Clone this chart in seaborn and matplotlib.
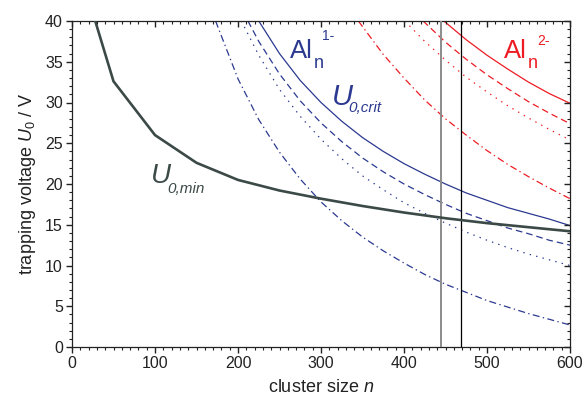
import numpy as np
import pandas as pd
import matplotlib
matplotlib.use("Agg")
import matplotlib.pyplot as plt
import seaborn as sns

# =========================
# DATA
# =========================
n_min = [28, 50, 100, 150, 200, 250, 300, 350, 400, 450, 500, 550, 600]
u_min = [40.0, 32.6, 26.0, 22.6, 20.5, 19.2, 18.2, 17.3, 16.5, 15.8, 15.2, 14.7, 14.2]

n_b_solid = [225, 250, 275, 300, 325, 350, 375, 400, 425, 450, 475, 500, 525, 550, 575, 600]
u_b_solid = [40.0, 36.0, 32.7, 30.0, 27.7, 25.7, 24.0, 22.5, 21.2, 20.0, 18.9, 18.0, 17.1, 16.4, 15.7, 14.9]

n_b_dash = [212, 225, 250, 275, 300, 325, 350, 375, 400, 425, 450, 475, 500, 525, 550, 575, 600]
u_b_dash = [40.0, 37.5, 33.5, 30.2, 27.5, 25.2, 23.2, 21.5, 20.0, 18.7, 17.5, 16.4, 15.5, 14.6, 13.9, 13.1, 12.5]

n_b_dot = [204, 225, 250, 275, 300, 325, 350, 375, 400, 425, 450, 475, 500, 525, 550, 575, 600]
u_b_dot = [40.0, 35.8, 31.6, 28.3, 25.5, 23.1, 21.0, 19.3, 17.7, 16.4, 15.2, 14.1, 13.1, 12.2, 11.4, 10.7, 10.0]

n_b_dd = [173, 200, 225, 250, 275, 300, 325, 350, 375, 400, 425, 450, 475, 500, 525, 550, 575, 600]
u_b_dd = [40.0, 32.9, 27.9, 23.9, 20.6, 17.8, 15.5, 13.5, 11.8, 10.3, 8.9, 7.7, 6.7, 5.7, 4.9, 4.1, 3.4, 2.7]

n_r_solid = [448, 475, 500, 525, 550, 575, 600]
u_r_solid = [40.0, 37.7, 35.8, 34.1, 32.5, 31.1, 29.9]

n_r_dash = [423, 450, 475, 500, 525, 550, 575, 600]
u_r_dash = [40.0, 37.4, 35.3, 33.4, 31.7, 30.1, 28.7, 27.4]

n_r_dot = [401, 425, 450, 475, 500, 525, 550, 575, 600]
u_r_dot = [40.0, 37.5, 35.2, 33.1, 31.3, 29.6, 28.1, 26.7, 25.4]

n_r_dd = [345, 375, 400, 425, 450, 475, 500, 525, 550, 575, 600]
u_r_dd = [40.0, 35.9, 33.0, 30.3, 28.0, 26.0, 24.1, 22.4, 20.9, 19.5, 18.2]

v_lines = [444.5, 469.0]

x_major = list(range(0, 601, 100))
x_minor = list(range(0, 601, 10))
y_major = list(range(0, 41, 5))
y_minor = list(range(0, 41, 1))

# =========================
# STYLE
# =========================
sns.set_style("ticks")
plt.rcParams["font.family"] = ["Liberation Sans", "DejaVu Sans"]
plt.rcParams["mathtext.fontset"] = "custom"
plt.rcParams["mathtext.rm"] = "Liberation Sans"
plt.rcParams["mathtext.it"] = "Liberation Sans:italic"

BLUE = "#2b3990"
RED = "#ed1c24"
DARK = "#3c4a47"
AXC = "#222222"

fig = plt.figure(figsize=(5.88, 4.07), dpi=100)
ax = fig.add_axes([72 / 588, 1 - 347 / 407, 498 / 588, 326 / 407])

# =========================
# CURVES  (dash lengths in units of line width, lw = 0.9)
# =========================
dash = (0, (5.3, 3.2))
dot = (0, (1.1, 4.2))
dashdot = (0, (5.6, 2.7, 1.1, 2.7))

blue_sets = [(n_b_solid, u_b_solid, "-"), (n_b_dash, u_b_dash, dash),
             (n_b_dot, u_b_dot, dot), (n_b_dd, u_b_dd, dashdot)]
red_sets = [(n_r_solid, u_r_solid, "-"), (n_r_dash, u_r_dash, dash),
            (n_r_dot, u_r_dot, dot), (n_r_dd, u_r_dd, dashdot)]

for xs, ys, ls in blue_sets:
    sns.lineplot(x=xs, y=ys, ax=ax, color=BLUE, linewidth=0.9, linestyle=ls)
for xs, ys, ls in red_sets:
    sns.lineplot(x=xs, y=ys, ax=ax, color=RED, linewidth=0.9, linestyle=ls)

ax.axvline(v_lines[0], color="#8c8c8c", linewidth=1.4, zorder=3)
ax.axvline(v_lines[1], color="black", linewidth=0.9, zorder=3)

sns.lineplot(x=n_min, y=u_min, ax=ax, color=DARK, linewidth=1.9, zorder=4)

# =========================
# AXES
# =========================
ax.set_xlim(0, 600)
ax.set_ylim(0, 40)
ax.set_xticks(x_major)
ax.set_xticks(x_minor, minor=True)
ax.set_yticks(y_major)
ax.set_yticks(y_minor, minor=True)
ax.tick_params(which="major", length=4.5, width=1.0, color=AXC,
               labelsize=11.5, pad=2, labelcolor="#222222")
ax.tick_params(which="minor", length=2.5, width=0.8, color=AXC)
for sp in ax.spines.values():
    sp.set_visible(True)
    sp.set_color(AXC)
    sp.set_linewidth(0.9)

# inward ticks on top and right via twin axes
tx = ax.twiny()
tx.set_xlim(ax.get_xlim())
tx.set_xticks(x_major)
tx.set_xticks(x_minor, minor=True)
tx.xaxis.set_ticks_position("top")
tx.tick_params(which="major", direction="in", length=4.5, width=1.0, color=AXC, labeltop=False)
tx.tick_params(which="minor", direction="in", length=2.5, width=0.8, color=AXC)

ty = ax.twinx()
ty.set_ylim(ax.get_ylim())
ty.set_yticks(y_major)
ty.set_yticks(y_minor, minor=True)
ty.yaxis.set_ticks_position("right")
ty.tick_params(which="major", direction="in", length=4.5, width=1.0, color=AXC, labelright=False)
ty.tick_params(which="minor", direction="in", length=2.5, width=0.8, color=AXC)
for t in (tx, ty):
    for sp in t.spines.values():
        sp.set_visible(False)

ax.set_xlabel("cluster size $n$", fontsize=13, color="#222222", labelpad=6)
ax.set_ylabel("trapping voltage $U_0$ / V", fontsize=13, color="#222222", labelpad=5)

# =========================
# LABELS
# =========================
ax.text(262.7, 35.5, "Al", color=BLUE, fontsize=18.5, ha="left", va="baseline")
ax.text(291.0, 34.27, "n", color=BLUE, fontsize=13, ha="left", va="baseline")
ax.text(301.5, 37.67, "1-", color=BLUE, fontsize=10, ha="left", va="baseline")

ax.text(520.5, 35.5, "Al", color=RED, fontsize=18.5, ha="left", va="baseline")
ax.text(549.5, 34.27, "n", color=RED, fontsize=13, ha="left", va="baseline")
ax.text(560.0, 37.1, "2-", color=RED, fontsize=10, ha="left", va="baseline")

ax.text(312.9, 29.7, "U", color=BLUE, fontsize=21, style="italic", ha="left", va="baseline")
ax.text(332.9, 28.8, "0,crit", color=BLUE, fontsize=11, style="italic", ha="left", va="baseline")

ax.text(94.8, 20.09, "U", color=DARK, fontsize=20, style="italic", ha="left", va="baseline")
ax.text(114.8, 18.86, "0,min", color=DARK, fontsize=11, style="italic", ha="left", va="baseline")

plt.savefig("out.png", dpi=100)
plt.close()
